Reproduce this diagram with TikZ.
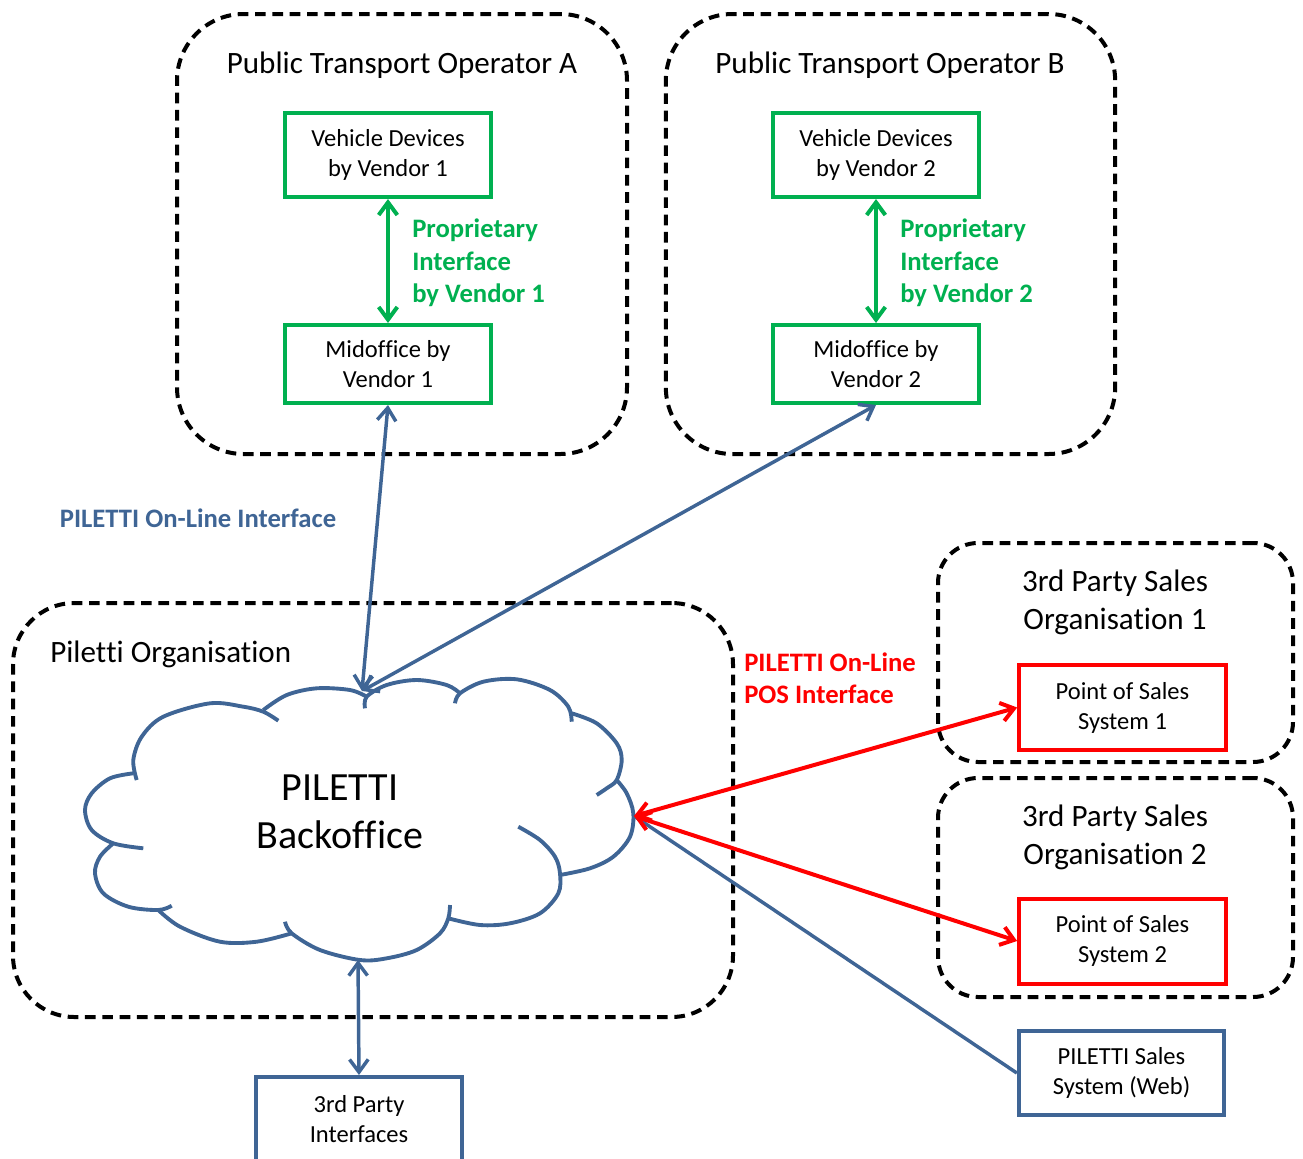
\documentclass[tikz,border=0pt]{standalone}
\usepackage{fontspec}
\setmainfont{Carlito}[Ligatures=NoCommon]
\usetikzlibrary{arrows.meta}
\definecolor{pgreen}{HTML}{00B050}
\definecolor{pblue}{HTML}{3F6595}
\definecolor{pred}{HTML}{FF0000}
\begin{document}
\begin{tikzpicture}[x=0.75pt,y=-0.75pt,
  >={Straight Barb[length=9.5pt,width=14pt]},
  container/.style={draw=black, line width=3pt, dash pattern=on 8pt off 5pt, inner sep=0pt},
  boxfont/.style={font=\fontsize{18.4pt}{22.5pt}\selectfont},
  titlefont/.style={font=\fontsize{23.3pt}{28.5pt}\selectfont, align=center, inner sep=0pt},
  boldlabel/.style={font=\fontsize{20pt}{24.4pt}\selectfont\bfseries, align=left, inner sep=0pt},
  greenbox/.style={draw=pgreen, line width=3pt, boxfont, align=center, minimum width=154.5pt, inner sep=0pt},
  redbox/.style={draw=pred, line width=3pt, boxfont, align=center, minimum width=155pt, minimum height=63.75pt, inner sep=0pt},
  bluebox/.style={draw=pblue, line width=3pt, boxfont, align=center, minimum width=154pt, minimum height=63pt, inner sep=0pt},
  gline/.style={draw=pgreen, line width=3pt},
  bline/.style={draw=pblue, line width=2.6pt},
  rline/.style={draw=pred, line width=3pt},
  cloudline/.style={draw=pblue, line width=2.9pt, smooth, tension=0.55, line cap=butt}
]
\useasboundingbox (0,0) rectangle (1303,1158);

% containers
\node[container, rounded corners=50pt, minimum width=337.5pt, minimum height=330pt] (opA) at (402,234) {};
\node[container, rounded corners=50pt, minimum width=337pt, minimum height=330pt] (opB) at (890.5,234) {};
\node[container, rounded corners=46pt, minimum width=540pt, minimum height=310.5pt] (org) at (373,810) {};
\node[container, rounded corners=30pt, minimum width=266.25pt, minimum height=164.25pt] (tp1) at (1115.5,652.5) {};
\node[container, rounded corners=30pt, minimum width=266.25pt, minimum height=164.25pt] (tp2) at (1115.5,887.5) {};

% container titles
\node[titlefont] (tA) at (402,65) {Public Transport Operator A};
\node[titlefont] (tB) at (890,65) {Public Transport Operator B};
\node[titlefont, anchor=west] (tOrg) at (50,654) {Pilet\kern0pt ti Organisation};
\node[titlefont] (t1) at (1115,602) {3rd Party Sales\\Organisation 1};
\node[titlefont] (t2) at (1115,837) {3rd Party Sales\\Organisation 2};

% boxes
\node[greenbox, minimum height=63pt] (vd1) at (388,155) {Vehicle Devices\\by Vendor 1};
\node[greenbox, minimum height=58.5pt] (mo1) at (388,364) {Midof\kern0pt f\kern0pt ice by\\Vendor 1};
\node[greenbox, minimum height=63pt] (vd2) at (876,155) {Vehicle Devices\\by Vendor 2};
\node[greenbox, minimum height=58.5pt] (mo2) at (876,364) {Midof\kern0pt f\kern0pt ice by\\Vendor 2};
\node[redbox] (pos1) at (1122.5,707.5) {Point of Sales\\System 1};
\node[redbox] (pos2) at (1122.5,941) {Point of Sales\\System 2};
\node[bluebox] (web) at (1121.5,1073) {PILETTI Sales\\System (Web)};
\node[bluebox] (tpi) at (359,1119) {3rd Party\\Interfaces};

% cloud
\draw[cloudline] plot coordinates {(136.7,780) (133.3,760) (141.7,736.7) (163.3,716.7) (210,703.3) (243.3,706.7) (263.3,711.7) (278.3,720.7)};
\draw[cloudline] plot coordinates {(133.3,773.3) (110,778.3) (91.7,793.3) (85,810) (91.7,830) (113.3,843.3) (143.3,848.3)};
\draw[cloudline] plot coordinates {(113.3,843.3) (100,856.7) (95,873.3) (103.3,893.3) (128.3,906.7) (158.3,910) (171.7,905.7)};
\draw[cloudline] plot coordinates {(158.3,910) (180,926.7) (220,941.7) (256.7,941.7) (291.7,933.3)};
\draw[cloudline] plot coordinates {(285,921.7) (291.7,933.3) (320,950) (360,960) (386.7,958.3) (416.7,950) (440,933.3) (448.3,918.3) (450,905)};
\draw[cloudline] plot coordinates {(448.3,918.3) (480,925) (510,923.3) (540,913.3) (558.3,893.3) (560,873.3) (555,856.7) (540,840) (518.3,826.7)};
\draw[cloudline] plot coordinates {(560,875) (590,868.3) (613.3,856.7) (630,836.7) (633.3,813.3) (626.7,793.3) (616.7,780)};
\draw[cloudline] plot coordinates {(596.7,795) (606.7,788.3) (616.7,780) (621.7,760) (616.7,743.3) (596.7,723.3) (571.7,713.3)};
\draw[cloudline] plot coordinates {(455,703.3) (460,693.3) (483.3,681.7) (516.7,679.3) (550,690) (568.3,706.7) (571.7,721.7)};
\draw[cloudline] plot coordinates {(365,708.3) (366.7,696.7) (386.7,685) (416.7,680) (446.7,685) (460,693.3)};
\draw[cloudline] plot coordinates {(263.3,710) (286.7,695) (316.7,688.3) (350,690) (366.7,696.7)};
\node[font=\fontsize{30pt}{36pt}\selectfont, align=center, inner sep=0pt] (cloud) at (340,812) {PILETTI\\Backof\kern0pt f\kern0pt ice};
\coordinate (ctop) at (362,691);
\coordinate (cright) at (634,816);
\coordinate (cbot) at (358,960);

% connectors
\draw[gline,<->] (vd1.south) -- (mo1.north);
\draw[gline,<->] (vd2.south) -- (mo2.north);
\draw[bline,<->] (mo1.south) -- (ctop);
\draw[bline,<->] (mo2.south) -- (ctop);
\draw[bline] (cright) -- (web.west);
\draw[rline,<->] (cright) -- (pos1.west);
\draw[rline,<->] (cright) -- (pos2.west);
\draw[bline,<->] (cbot) -- (tpi.north);

% labels
\node[boldlabel, text=pgreen, anchor=west] (lA) at (412,263) {Proprietary\\Interface\\by Vendor 1};
\node[boldlabel, text=pgreen, anchor=west] (lB) at (900,263) {Proprietary\\Interface\\by Vendor 2};
\node[boldlabel, text=pblue] (lOn) at (198,518) {PILETTI On-Line Interface};
\node[boldlabel, text=pred, anchor=west] (lPos) at (744,678) {PILETTI On-Line\\POS Interface};
\end{tikzpicture}
\end{document}
